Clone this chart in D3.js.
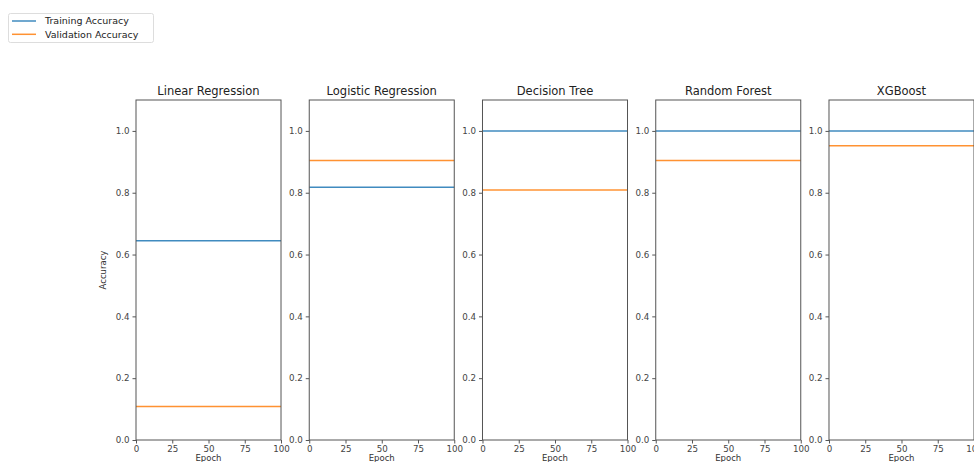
<!DOCTYPE html>
<html>
<head>
<meta charset="utf-8">
<script src="https://cdn.jsdelivr.net/npm/d3@7"></script>
<style>
  html, body { margin: 0; padding: 0; background: #fff; }
  svg { display: block; font-family: "DejaVu Sans", sans-serif; }
</style>
</head>
<body>
<svg id="chart"></svg>
<script>
// model names shown as subplot titles
const models = ["Linear Regression", "Logistic Regression", "Decision Tree", "Random Forest", "XGBoost"];
// constant accuracy per model
const trainAcc = [0.645, 0.818, 1.0, 1.0, 1.0];
const valAcc = [0.108, 0.904, 0.809, 0.904, 0.952];
const epochs = [0, 100];
const xTicks = [0, 25, 50, 75, 100];
const yTicks = [0, 0.2, 0.4, 0.6, 0.8, 1.0];
const seriesNames = ["Training Accuracy", "Validation Accuracy"];

const width = 974;
const height = 462;
const colors = ["#1f77b4", "#ff7f0e"];

const svg = d3.select("#chart")
    .attr("width", width)
    .attr("height", height);

// one band per subplot
const panel = d3.scaleBand()
    .domain(models)
    .range([136, 974])
    .paddingInner(0.163)
    .paddingOuter(0);

const y = d3.scaleLinear()
    .domain([0, 1.1])
    .range([440, 100]);

const line = (x, v) => d3.line()
    .x(d => x(d))
    .y(() => y(v));

models.forEach((name, i) => {
    const left = panel(name);
    const x = d3.scaleLinear()
        .domain([0, 100])
        .range([left, left + panel.bandwidth()]);

    const g = svg.append("g");

    // x axis
    const xAxis = g.append("g")
        .attr("transform", `translate(0, ${y(0)})`)
        .call(d3.axisBottom(x).tickValues(xTicks).tickSize(3.5).tickPadding(2));
    // y axis
    const yAxis = g.append("g")
        .attr("transform", `translate(${left}, 0)`)
        .call(d3.axisLeft(y).tickValues(yTicks).tickFormat(d3.format(".1f")).tickSize(3.5).tickPadding(3));

    [xAxis, yAxis].forEach(ax => {
        ax.select(".domain").remove();
        ax.selectAll(".tick line").attr("stroke", "#555");
        ax.selectAll(".tick text")
            .attr("fill", "#444")
            .style("font-size", "8.7px")
            .style("font-family", "DejaVu Sans");
    });

    // series lines
    [trainAcc[i], valAcc[i]].forEach((v, k) => {
        g.append("path")
            .datum(epochs)
            .attr("fill", "none")
            .attr("stroke", colors[k])
            .attr("stroke-opacity", 0.85)
            .attr("stroke-width", 1.5)
            .attr("d", line(x, v));
    });

    // frame
    g.append("rect")
        .attr("x", left)
        .attr("y", y(1.1))
        .attr("width", panel.bandwidth())
        .attr("height", y(0) - y(1.1))
        .attr("fill", "none")
        .attr("stroke", "#555")
        .attr("stroke-width", 1);

    g.append("text")
        .attr("x", left + panel.bandwidth() / 2)
        .attr("y", 95)
        .attr("text-anchor", "middle")
        .attr("fill", "#222")
        .style("font-size", "11.5px")
        .text(name);

    g.append("text")
        .attr("x", left + panel.bandwidth() / 2)
        .attr("y", 461)
        .attr("text-anchor", "middle")
        .attr("fill", "#333")
        .style("font-size", "8.5px")
        .text("Epoch");

    if (i === 0) {
        g.append("text")
            .attr("transform", `translate(106, ${y(0.55)}) rotate(-90)`)
            .attr("text-anchor", "middle")
            .attr("fill", "#333")
            .style("font-size", "8.5px")
            .text("Accuracy");
    }
});

// legend
const legend = svg.append("g");
legend.append("rect")
    .attr("x", 8.5).attr("y", 13.5)
    .attr("width", 145).attr("height", 29)
    .attr("rx", 2)
    .attr("fill", "#fff")
    .attr("stroke", "#ddd");
seriesNames.forEach((s, k) => {
    const ly = 21 + k * 13.3;
    legend.append("line")
        .attr("x1", 12).attr("x2", 36)
        .attr("y1", ly).attr("y2", ly)
        .attr("stroke", colors[k])
        .attr("stroke-opacity", 0.85)
        .attr("stroke-width", 1.5);
    legend.append("text")
        .attr("x", 45).attr("y", ly + 3.2)
        .attr("fill", "#222")
        .style("font-size", "9.5px")
        .text(s);
});
</script>
</body>
</html>
